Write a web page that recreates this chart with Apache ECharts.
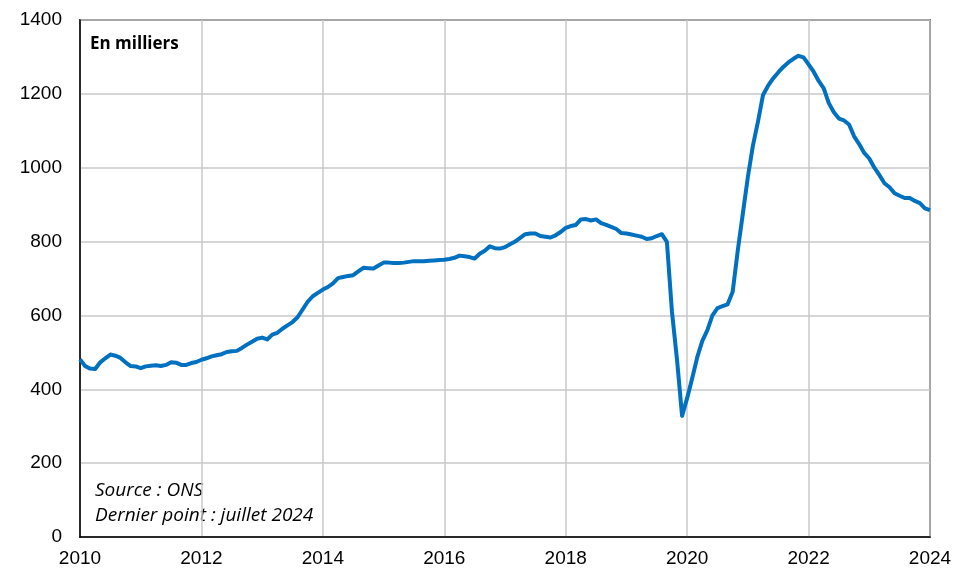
<!DOCTYPE html>
<html>
<head>
<meta charset="utf-8">
<style>
  html, body { margin: 0; padding: 0; background: #fff; }
  #chart-container { width: 955px; height: 570px; }
</style>
</head>
<body>
<div id="chart-container"></div>
<script src="https://cdn.jsdelivr.net/npm/echarts@6/dist/echarts.min.js"></script>
<script type="text/javascript">
// monthly values, in thousands, first point at 2010 and last at 2024 on the axis
var startYear = 2010;
var vacancies = [
  481, 463, 456, 455, 473, 484, 494, 491, 485, 473, 463, 462,
  457, 462, 464, 465, 463, 466, 473, 472, 466, 466, 471, 474,
  480, 484, 489, 492, 495, 501, 503, 504, 512, 521, 529, 537,
  540, 535, 548, 553, 564, 573, 582, 595, 616, 637, 652, 661,
  670, 677, 687, 701, 704, 707, 709, 719, 729, 728, 727, 735,
  743, 743, 742, 742, 743, 745, 747, 747, 747, 748, 749, 750,
  751, 753, 756, 762, 760, 758, 754, 767, 775, 787, 782, 781,
  785, 793, 800, 810, 820, 822, 822, 815, 813, 811, 817, 826,
  837, 842, 845, 860, 861, 857, 860, 850, 845, 840, 834, 823,
  822, 819, 816, 813, 807, 809, 815, 820, 799, 610, 480, 328,
  376, 430, 487, 531, 560, 600, 620, 625, 630, 664, 775, 875,
  975, 1060, 1125, 1197, 1222, 1242, 1258, 1273, 1285, 1295, 1303, 1299,
  1280, 1260, 1235, 1215, 1175, 1150, 1133, 1128, 1117, 1085, 1064, 1040,
  1025, 1000, 980, 958, 947, 931, 924, 918, 918, 910, 904, 890,
  885
];
var yearTicks = [2010, 2012, 2014, 2016, 2018, 2020, 2022, 2024];
var unitLabel = 'En milliers';
var sourceLines = ['Source : ONS', 'Dernier point : juillet 2024'];

var seriesData = vacancies.map(function (v, i) {
  return [startYear + i / 12, v];
});

var dom = document.getElementById('chart-container');
var myChart = echarts.init(dom, null, { renderer: 'canvas' });

var option = {
  animation: false,
  grid: {
    left: 80, right: 25, top: 20, bottom: 33,
    show: true,
    borderColor: '#000',
    borderWidth: 1.5,
    containLabel: false
  },
  xAxis: {
    type: 'value',
    min: yearTicks[0],
    max: yearTicks[yearTicks.length - 1],
    interval: 2,
    axisLine: { show: true, lineStyle: { color: '#000', width: 1.5 } },
    axisTick: { show: false },
    axisLabel: {
      color: '#000',
      fontFamily: 'Liberation Sans',
      fontSize: 19,
      margin: 12,
      formatter: function (v) { return String(v); }
    },
    splitLine: { show: true, lineStyle: { color: '#c8c8c8', width: 1.5 } }
  },
  yAxis: {
    type: 'value',
    min: 0,
    max: 1400,
    interval: 200,
    axisLine: { show: true, lineStyle: { color: '#000', width: 1.5 } },
    axisTick: { show: false },
    axisLabel: {
      color: '#000',
      fontFamily: 'Liberation Sans',
      fontSize: 19,
      margin: 18,
      formatter: function (v) { return String(v); }
    },
    splitLine: { show: true, lineStyle: { color: '#c8c8c8', width: 1.5 } }
  },
  graphic: [
    {
      type: 'text', left: 90, top: 36,
      style: { text: unitLabel, fill: '#000', font: 'bold 17px "Open Sans"' }
    },
    {
      type: 'text', left: 95, top: 481,
      style: { text: sourceLines[0], fill: '#000', font: 'italic 19px "Open Sans"' }
    },
    {
      type: 'text', left: 95, top: 506,
      style: { text: sourceLines[1], fill: '#000', font: 'italic 19px "Open Sans"' }
    }
  ],
  series: [
    {
      type: 'line',
      data: seriesData,
      showSymbol: false,
      smooth: false,
      lineStyle: { color: '#0070c0', width: 4, join: 'round' },
      clip: true
    }
  ]
};

myChart.setOption(option);
window.addEventListener('resize', myChart.resize);
</script>
</body>
</html>
